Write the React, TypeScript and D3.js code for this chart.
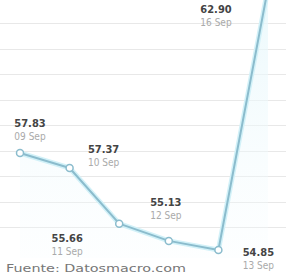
import { useEffect, useRef } from 'react';
import * as d3 from 'd3';

// Precio por fecha
const dates = ['09 Sep', '10 Sep', '11 Sep', '12 Sep', '13 Sep', '16 Sep'];
const values = [57.83, 57.37, 55.66, 55.13, 54.85, 62.9];
const source = 'Fuente: Datosmacro.com';

// placement of the two-line labels relative to each point
const labelPos = [
  { dx: 10, dy: -26 },
  { dx: 34, dy: -15 },
  { dx: -52, dy: 18 },
  { dx: -3, dy: -35 },
  { dx: 40, dy: 6 },
  { dx: -52, dy: 13 },
];

const App = () => {
  const ref = useRef<SVGSVGElement | null>(null);

  useEffect(() => {
    if (!ref.current) return;
    const width = 286;
    const height = 274;

    const svg = d3.select(ref.current);
    svg.selectAll('*').remove();
    svg.attr('width', width).attr('height', height);

    const x = d3.scalePoint<string>().domain(dates).range([20, 268]);
    const y = d3.scaleLinear().domain([54.85, 62.9]).range([250, -12]);

    // light horizontal guides
    const grid = d3.scaleLinear().domain([0, 8]).range([227, 23]);
    svg.append('g')
      .selectAll('line')
      .data(d3.range(0, 9))
      .join('line')
      .attr('x1', 0)
      .attr('x2', width)
      .attr('y1', (d) => Math.round(grid(d)) + 0.5)
      .attr('y2', (d) => Math.round(grid(d)) + 0.5)
      .attr('stroke', '#e8e8e8')
      .attr('stroke-width', 1);

    const pts = values.map((v, i) => [x(dates[i]) as number, y(v)] as [number, number]);

    const defs = svg.append('defs');
    const grad = defs.append('linearGradient')
      .attr('id', 'fillGrad')
      .attr('x1', 0).attr('x2', 0).attr('y1', 0).attr('y2', 1);
    grad.append('stop').attr('offset', '0%').attr('stop-color', '#e6f7fb').attr('stop-opacity', 0.8);
    grad.append('stop').attr('offset', '100%').attr('stop-color', '#f5fcfe').attr('stop-opacity', 0.2);

    const area = d3.area<[number, number]>()
      .x((d) => d[0])
      .y0(258)
      .y1((d) => d[1]);
    svg.append('path')
      .attr('d', area(pts) as string)
      .attr('fill', 'url(#fillGrad)');

    const line = d3.line<[number, number]>().x((d) => d[0]).y((d) => d[1]);
    svg.append('path')
      .attr('d', line(pts) as string)
      .attr('fill', 'none')
      .attr('stroke', '#d2f1f8')
      .attr('stroke-width', 5)
      .attr('stroke-linejoin', 'round');
    svg.append('path')
      .attr('d', line(pts) as string)
      .attr('fill', 'none')
      .attr('stroke', '#8bbccd')
      .attr('stroke-width', 2)
      .attr('stroke-linejoin', 'round');

    svg.append('g')
      .selectAll('circle')
      .data(pts)
      .join('circle')
      .attr('cx', (d) => d[0])
      .attr('cy', (d) => d[1])
      .attr('r', 3.5)
      .attr('fill', '#fff')
      .attr('stroke', '#8bbccd')
      .attr('stroke-width', 1.5);

    const labels = svg.append('g').attr('font-family', 'DejaVu Sans Condensed, DejaVu Sans, sans-serif');
    pts.forEach((p, i) => {
      const lx = p[0] + labelPos[i].dx;
      const ly = Math.max(p[1], 0) + labelPos[i].dy;
      labels.append('text')
        .attr('x', lx)
        .attr('y', ly)
        .attr('text-anchor', 'middle')
        .attr('font-size', 11)
        .attr('font-weight', 'bold')
        .attr('fill', '#444')
        .text(d3.format('.2f')(values[i]));
      labels.append('text')
        .attr('x', lx)
        .attr('y', ly + 13)
        .attr('text-anchor', 'middle')
        .attr('font-size', 10)
        .attr('fill', '#aaa')
        .text(dates[i]);
    });

    svg.append('text')
      .attr('x', 6)
      .attr('y', 272)
      .attr('font-family', 'DejaVu Sans, sans-serif')
      .attr('font-size', 11)
      .attr('fill', '#777')
      .attr('textLength', 180)
      .attr('lengthAdjust', 'spacingAndGlyphs')
      .text(source);
  }, []);

  return (
    <div style={{ position: 'absolute', left: 0, top: 0, background: '#fff' }}>
      <svg ref={ref} style={{ display: 'block' }} />
    </div>
  );
};

export default App;
